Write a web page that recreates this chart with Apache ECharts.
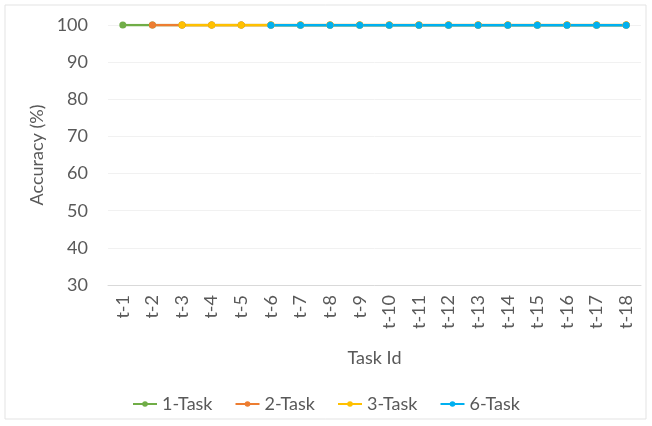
<!DOCTYPE html>
<html>
<head>
<meta charset="utf-8">
<script src="https://cdn.jsdelivr.net/npm/echarts@6/dist/echarts.min.js"></script>
<style>
html,body{margin:0;padding:0;background:#fff;}
#c{width:652px;height:426px;}
</style>
</head>
<body>
<div id="c"></div>
<script>
const categories = ['t-1','t-2','t-3','t-4','t-5','t-6','t-7','t-8','t-9','t-10','t-11','t-12','t-13','t-14','t-15','t-16','t-17','t-18'];
const oneTask   = [100,100,100,100,100,100,100,100,100,100,100,100,100,100,100,100,100,100];
const twoTask   = ['-',100,100,100,100,100,100,100,100,100,100,100,100,100,100,100,100,100];
const threeTask = ['-','-',100,100,100,100,100,100,100,100,100,100,100,100,100,100,100,100];
const sixTask   = ['-','-','-','-','-',99.9,99.9,99.9,99.9,99.9,99.9,99.9,99.9,99.9,99.9,99.9,99.9,99.9];
const yTicks = {min:30, max:100, interval:10};

const font = 'Lato, "Open Sans", sans-serif';
const txt = '#595959';
function mk(name, data, color){
  return {name, type:'line', data, symbol:'circle', symbolSize:7,
    lineStyle:{width:2.5,color}, itemStyle:{color}, emphasis:{disabled:true}};
}
const chart = echarts.init(document.getElementById('c'));
chart.setOption({
  animation:false,
  graphic:[{type:'rect', shape:{x:5,y:5,width:641,height:414}, style:{fill:'none', stroke:'#e3e3e3', lineWidth:1}, silent:true}],
  grid:{left:108, right:11, top:25, bottom:141},
  xAxis:{type:'category', data:categories, boundaryGap:true,
    name:'Task Id', nameLocation:'middle', nameGap:64,
    nameTextStyle:{fontFamily:font, fontSize:18, color:txt},
    axisLine:{lineStyle:{color:'#d9d9d9', width:1}},
    axisTick:{show:false},
    axisLabel:{rotate:90, fontFamily:font, fontSize:18, color:txt, margin:10}},
  yAxis:{type:'value', min:yTicks.min, max:yTicks.max, interval:yTicks.interval,
    name:'Accuracy (%)', nameLocation:'middle', nameGap:62,
    nameTextStyle:{fontFamily:font, fontSize:18, color:txt},
    axisLine:{show:false}, axisTick:{show:false},
    splitLine:{lineStyle:{color:'#f1f1f1', width:1}},
    axisLabel:{fontFamily:font, fontSize:18, color:txt, margin:20}},
  legend:{bottom:8, left:'center', itemWidth:24, itemHeight:7, itemGap:22,
    textStyle:{fontFamily:font, fontSize:18, color:txt},
    data:['1-Task','2-Task','3-Task','6-Task']},
  series:[
    mk('1-Task', oneTask, '#70AD47'),
    mk('2-Task', twoTask, '#ED7D31'),
    mk('3-Task', threeTask, '#FFC000'),
    mk('6-Task', sixTask, '#00B0F0')
  ]
});
</script>
</body>
</html>
